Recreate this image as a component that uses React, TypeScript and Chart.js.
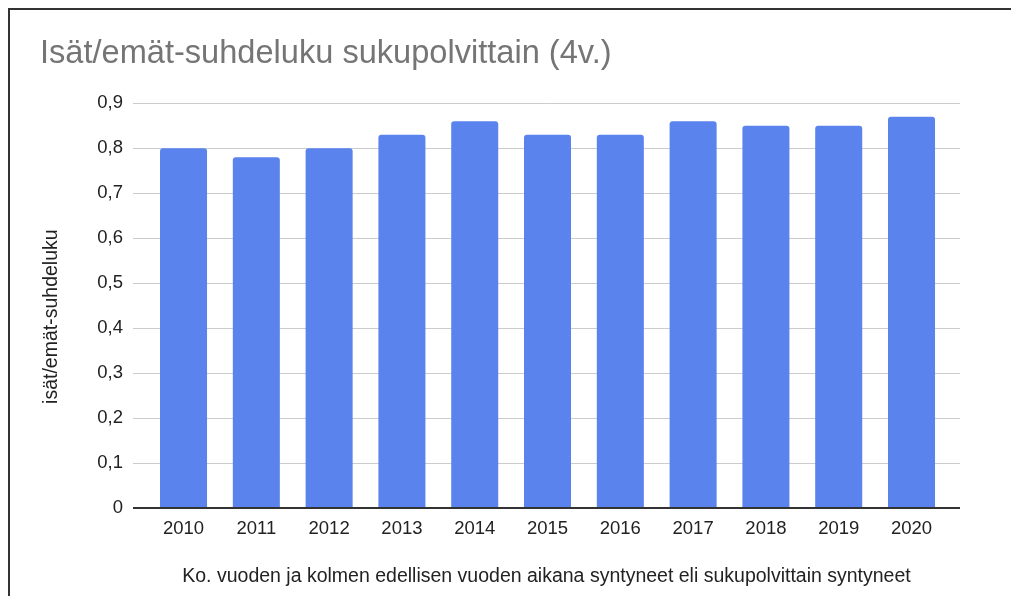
import React, { useEffect, useRef } from "react";
import { Chart, registerables } from "chart.js";

Chart.register(...registerables);

const years: number[] = [2010, 2011, 2012, 2013, 2014, 2015, 2016, 2017, 2018, 2019, 2020];
const ratios: number[] = [0.8, 0.78, 0.8, 0.83, 0.86, 0.83, 0.83, 0.86, 0.85, 0.85, 0.87];
const chartTitle = "Isät/emät-suhdeluku sukupolvittain (4v.)";
const yAxisTitle = "isät/emät-suhdeluku";
const xAxisTitle = "Ko. vuoden ja kolmen edellisen vuoden aikana syntyneet eli sukupolvittain syntyneet";

const FONT = "'Liberation Sans', Arial, sans-serif";

const yTitlePlugin = {
  id: "yTitlePlugin",
  afterDraw(chart: any) {
    const { ctx, chartArea } = chart;
    ctx.save();
    ctx.font = `19.5px ${FONT}`;
    ctx.fillStyle = "#222";
    ctx.textAlign = "center";
    ctx.textBaseline = "middle";
    ctx.translate(41.5, (chartArea.top + chartArea.bottom) / 2 + 11);
    ctx.rotate(-Math.PI / 2);
    ctx.fillText(yAxisTitle, 0, 0);
    ctx.restore();
  },
};

export default function App() {
  const ref = useRef<HTMLCanvasElement | null>(null);

  useEffect(() => {
    if (!ref.current) return;
    const chart = new Chart(ref.current, {
      type: "bar",
      data: {
        datasets: [
          {
            data: years.map((yr, i) => ({ x: yr, y: ratios[i] })),
            backgroundColor: "#5A83EE",
            borderRadius: 3,
            categoryPercentage: 1,
            barPercentage: 0.646,
          },
        ],
      },
      plugins: [yTitlePlugin],
      options: {
        animation: false,
        responsive: true,
        maintainAspectRatio: false,
        layout: { padding: { top: 0, left: 30, right: 59, bottom: 0 } },
        plugins: {
          legend: { display: false },
          tooltip: { enabled: false },
          title: {
            display: true,
            text: chartTitle,
            align: "start",
            color: "#757575",
            font: { family: FONT, size: 32.6, weight: "normal" },
            padding: { top: 24.5, bottom: 29.7 },
          },
        },
        scales: {
          x: {
            type: "linear",
            offset: false,
            min: 2009.306,
            max: 2020.666,
            grid: { display: false, drawTicks: false, offset: false },
            border: { display: false },
            afterBuildTicks: (axis: any) => {
              axis.ticks = years.map((v) => ({ value: v }));
            },
            afterFit: (axis: any) => {
              axis.height = 88;
            },
            ticks: {
              autoSkip: false,
              maxRotation: 0,
              padding: 10,
              color: "#222",
              font: { family: FONT, size: 18.5 },
              callback: (v: any) => String(v),
            },
            title: {
              display: true,
              text: xAxisTitle,
              color: "#222",
              font: { family: FONT, size: 19.5 },
              padding: { top: 0, bottom: 7.3 },
            },
          },
          y: {
            min: 0,
            max: 0.9,
            border: { display: false },
            afterFit: (axis: any) => {
              axis.width = 93;
            },
            grid: {
              drawTicks: false,
              color: (ctx: any) => (ctx.tick && Math.abs(ctx.tick.value) < 1e-9 ? "#333" : "#cccccc"),
              lineWidth: (ctx: any) => (ctx.tick && Math.abs(ctx.tick.value) < 1e-9 ? 2 : 1),
            },
            ticks: {
              stepSize: 0.1,
              padding: 10,
              color: "#222",
              font: { family: FONT, size: 18.5 },
              callback: (v: any) => {
                const n = Math.round(Number(v) * 10) / 10;
                return n === 0 ? "0" : n.toFixed(1).replace(".", ",");
              },
            },
            title: { display: false },
          },
        },
      },
    });
    return () => chart.destroy();
  }, []);

  return (
    <div
      style={{
        width: 1011,
        height: 588,
        boxSizing: "border-box",
        borderTop: "2px solid #333",
        borderLeft: "2px solid #333",
        background: "#fff",
        position: "relative",
      }}
    >
      <canvas ref={ref} />
    </div>
  );
}
